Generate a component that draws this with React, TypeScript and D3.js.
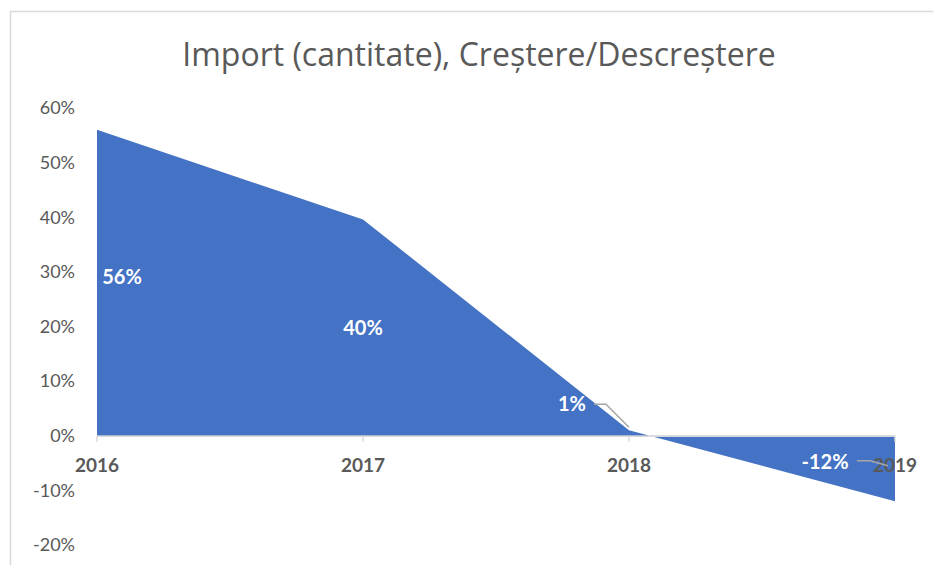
import React from 'react';
import * as d3 from 'd3';

const years = ['2016', '2017', '2018', '2019'];
const growth = [0.56, 0.396, 0.01, -0.12];
const labelText = ['56%', '40%', '1%', '-12%'];
const yTicks = [-0.2, -0.1, 0, 0.1, 0.2, 0.3, 0.4, 0.5, 0.6];

const W = 933;
const H = 565;
const FONT = 'Lato, "Open Sans", sans-serif';
const FILL = '#4472C4';
const GREY = '#595959';

// plain hyphen for negatives, like the original
const fmt = d3.formatLocale({ decimal: '.', thousands: ',', grouping: [3], currency: ['', ''], minus: '-' }).format('.0%');

const App = () => {
    const x = d3.scalePoint<string>().domain(years).range([97, 895]);
    const y = d3.scaleLinear().domain([-0.2, 0.6]).range([545, 108]);

    const area = d3.area<number>()
        .x((d, i) => x(years[i]) as number)
        .y0(y(0))
        .y1((d) => y(d));

    // label anchors: first two sit inside the area, the last two were dragged out
    const labelPos = growth.map((v, i) => {
        const px = x(years[i]) as number;
        const mid = (y(v) + y(0)) / 2;
        if (i === 0) return { lx: px + 25, ly: mid - 6, lead: null };
        if (i === 1) return { lx: px, ly: mid, lead: null };
        if (i === 2) return { lx: px - 57, ly: y(v) - 26, lead: [[px - 35, y(v) - 26], [px - 23, y(v) - 26], [px, y(v) - 3]] };
        return { lx: px - 70, ly: y(0) + 26, lead: [[px - 38, y(0) + 25], [px - 25, y(0) + 25], [px - 7, y(0) + 30]] };
    });

    return (
        <svg width={W} height={H} style={{ position: 'absolute', left: 0, top: 0 }}>
            <rect x={0} y={0} width={W} height={H} fill="#fff" />
            <rect x={10.5} y={11.5} width={W + 20} height={H + 20} fill="none" stroke="#d9d9d9" strokeWidth={1.5} />
            <text x={479} y={66} textAnchor="middle" fontFamily='"Open Sans", sans-serif' fontSize={32} fill={GREY}>
                Import (cantitate), Creștere/Descreștere
            </text>
            {yTicks.map((t) => (
                <text key={t} x={75} y={y(t)} dy="0.35em" textAnchor="end" fontFamily={FONT} fontSize={18} fill={GREY}>
                    {fmt(t)}
                </text>
            ))}
            <path d={area(growth) || ''} fill={FILL} />
            <line x1={x(years[0])} x2={x(years[years.length - 1])} y1={y(0) + 0.5} y2={y(0) + 0.5} stroke="#d9d9d9" strokeWidth={1.5} />
            {years.map((yr) => (
                <line key={yr} x1={x(yr)} x2={x(yr)} y1={y(0)} y2={y(0) + 6} stroke="#d9d9d9" strokeWidth={1.5} />
            ))}
            {years.map((yr) => (
                <text key={yr} x={x(yr)} y={y(0) + 30} dy="0.35em" textAnchor="middle" fontFamily={FONT} fontSize={19} fontWeight="bold" fill={GREY}>
                    {yr}
                </text>
            ))}
            {labelPos.map((p, i) => (
                <g key={i}>
                    {p.lead && (
                        <path d={d3.line()(p.lead as [number, number][]) || ''} fill="none" stroke="#a6a6a6" strokeWidth={1.5} />
                    )}
                    <text x={p.lx} y={p.ly} dy="0.35em" textAnchor="middle" fontFamily={FONT} fontSize={20} fontWeight="bold" fill="#fff">
                        {labelText[i]}
                    </text>
                </g>
            ))}
        </svg>
    );
};

export default App;
